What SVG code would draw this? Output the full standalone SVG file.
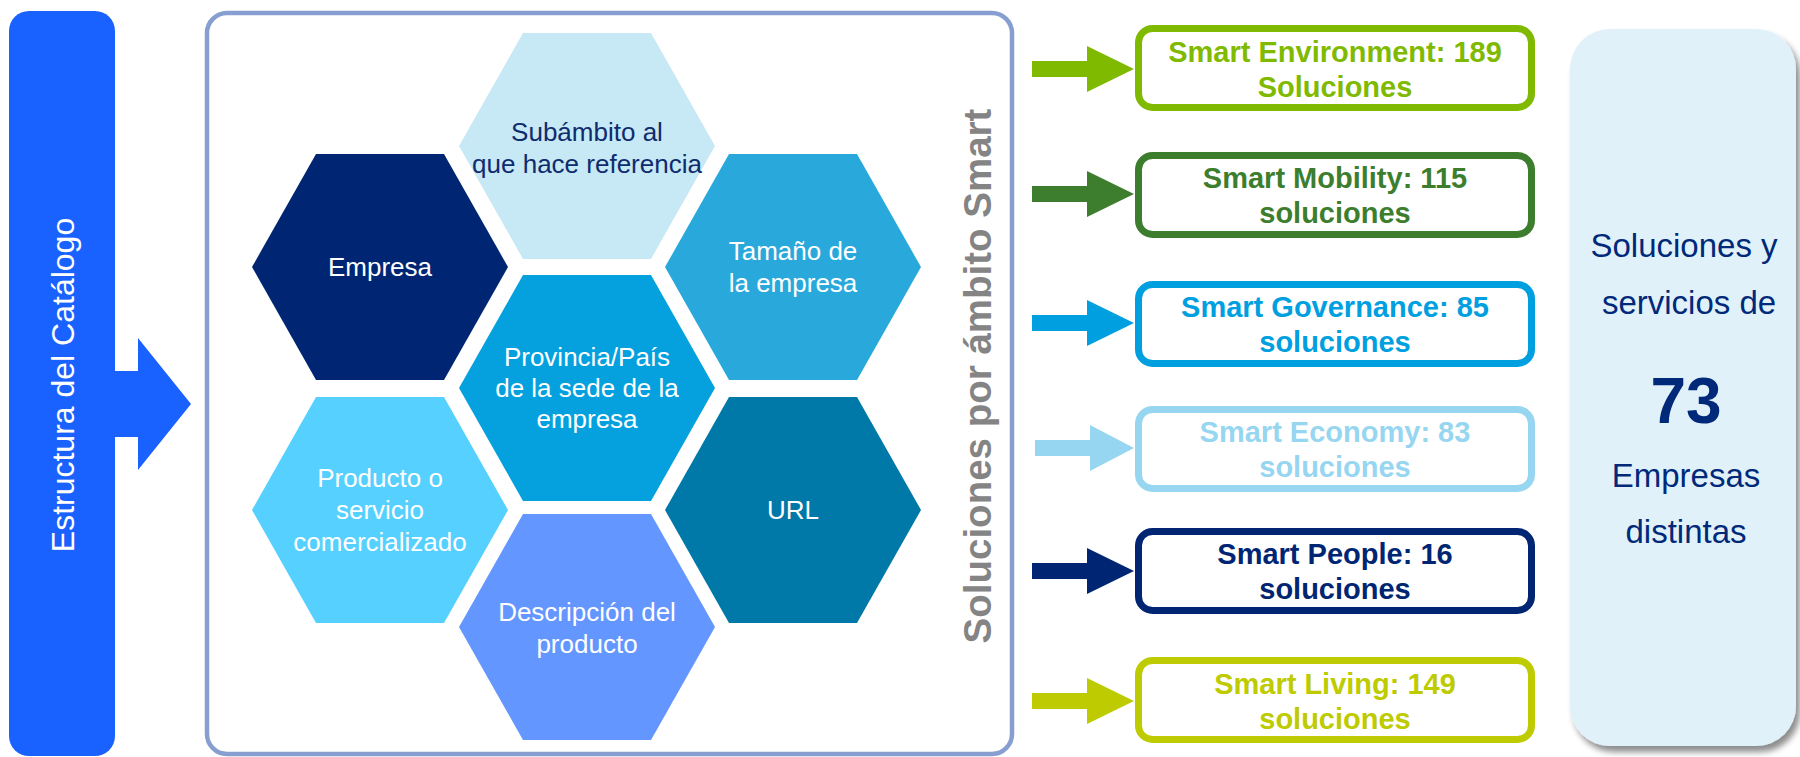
<svg xmlns="http://www.w3.org/2000/svg" width="1800" height="757" viewBox="0 0 1800 757">
<defs>
<style>
text{font-family:"Liberation Sans",Arial,sans-serif;text-anchor:middle}
.hx{font-size:26px;fill:#fff}
.hxd{font-size:26px;fill:#0E2C6E}
.bx{fill:#fff;stroke-width:7}
.bt{font-size:29px;font-weight:bold}
.pt{font-size:33px;fill:#00297A}
</style>
<polygon id="hex" points="-128,0 -64,-113 64,-113 128,0 64,113 -64,113"/>
<filter id="sh" x="-10%" y="-10%" width="130%" height="130%">
<feDropShadow dx="4" dy="6" stdDeviation="3" flood-color="#000" flood-opacity="0.45"/>
</filter>
</defs>
<rect width="1800" height="757" fill="#fff"/>

<g id="estructura">
<rect x="9" y="11" width="106" height="745" rx="20" fill="#1A62FF"/>
<polygon points="115,371 138,371 138,338 191,404 138,470 138,437 115,437" fill="#1A62FF"/>
<text transform="translate(74,385) rotate(-90)" style="font-size:32px;fill:#fff">Estructura del Catálogo</text>
</g>

<g id="catalogo-box">
<rect x="207" y="13" width="805" height="741" rx="20" fill="#fff" stroke="#879ED0" stroke-width="4.5"/>
<text transform="translate(991,376) rotate(-90)" style="font-size:38.5px;font-weight:bold;fill:#848484">Soluciones por ámbito Smart</text>
</g>

<g id="hex-subambito">
<use href="#hex" x="587" y="146" fill="#C7E8F5"/>
<text class="hxd" x="587" y="141">Subámbito al</text>
<text class="hxd" x="587" y="173">que hace referencia</text>
</g>
<g id="hex-empresa">
<use href="#hex" x="380" y="267" fill="#002673"/>
<text class="hx" x="380" y="276">Empresa</text>
</g>
<g id="hex-tamano">
<use href="#hex" x="793" y="267" fill="#29A9DB"/>
<text class="hx" x="793" y="260">Tamaño de</text>
<text class="hx" x="793" y="292">la empresa</text>
</g>
<g id="hex-provincia">
<use href="#hex" x="587" y="388" fill="#05A0DE"/>
<text class="hx" x="587" y="366">Provincia/País</text>
<text class="hx" x="587" y="397">de la sede de la</text>
<text class="hx" x="587" y="428">empresa</text>
</g>
<g id="hex-producto">
<use href="#hex" x="380" y="510" fill="#55D0FF"/>
<text class="hx" x="380" y="487">Producto o</text>
<text class="hx" x="380" y="519">servicio</text>
<text class="hx" x="380" y="551">comercializado</text>
</g>
<g id="hex-url">
<use href="#hex" x="793" y="510" fill="#0078A8"/>
<text class="hx" x="793" y="519">URL</text>
</g>
<g id="hex-descripcion">
<use href="#hex" x="587" y="627" fill="#6496FF"/>
<text class="hx" x="587" y="621">Descripción del</text>
<text class="hx" x="587" y="653">producto</text>
</g>

<g id="connectors">
<path d="M1032,61 H1087 V46 L1134,69 L1087,92 V77 H1032 Z" fill="#7FBA00"/>
<path d="M1032,186 H1087 V171 L1134,194 L1087,217 V202 H1032 Z" fill="#3D7E2E"/>
<path d="M1032,315 H1087 V300 L1134,323 L1087,346 V331 H1032 Z" fill="#00A0E0"/>
<path d="M1035,440 H1090 V425 L1134,448 L1090,471 V456 H1035 Z" fill="#97D6F0"/>
<path d="M1032,563 H1087 V548 L1134,571 L1087,594 V579 H1032 Z" fill="#002673"/>
<path d="M1032,693 H1087 V678 L1134,701 L1087,724 V709 H1032 Z" fill="#BDCB00"/>
</g>

<g id="smart-environment">
<rect class="bx" x="1138.5" y="28.5" width="393" height="79" rx="14" stroke="#7FBA00"/>
<text class="bt" x="1335" y="62" fill="#7FBA00">Smart Environment: 189</text>
<text class="bt" x="1335" y="97" fill="#7FBA00">Soluciones</text>
</g>
<g id="smart-mobility">
<rect class="bx" x="1138.5" y="155.5" width="393" height="79" rx="14" stroke="#3D7E2E"/>
<text class="bt" x="1335" y="188" fill="#3D7E2E">Smart Mobility: 115</text>
<text class="bt" x="1335" y="223" fill="#3D7E2E">soluciones</text>
</g>
<g id="smart-governance">
<rect class="bx" x="1138.5" y="284.5" width="393" height="79" rx="14" stroke="#00A0E0"/>
<text class="bt" x="1335" y="317" fill="#00A0E0">Smart Governance: 85</text>
<text class="bt" x="1335" y="352" fill="#00A0E0">soluciones</text>
</g>
<g id="smart-economy">
<rect class="bx" x="1138.5" y="409.5" width="393" height="79" rx="14" stroke="#97D6F0"/>
<text class="bt" x="1335" y="442" fill="#97D6F0">Smart Economy: 83</text>
<text class="bt" x="1335" y="477" fill="#97D6F0">soluciones</text>
</g>
<g id="smart-people">
<rect class="bx" x="1138.5" y="531.5" width="393" height="79" rx="14" stroke="#002673"/>
<text class="bt" x="1335" y="564" fill="#002673">Smart People: 16</text>
<text class="bt" x="1335" y="599" fill="#002673">soluciones</text>
</g>
<g id="smart-living">
<rect class="bx" x="1138.5" y="660.5" width="393" height="79" rx="14" stroke="#BDCB00"/>
<text class="bt" x="1335" y="694" fill="#BDCB00">Smart Living: 149</text>
<text class="bt" x="1335" y="729" fill="#BDCB00">soluciones</text>
</g>

<g id="resumen">
<rect x="1570" y="29" width="226" height="717" rx="40" fill="#E1F1F9" filter="url(#sh)"/>
<text class="pt" x="1684" y="257">Soluciones y</text>
<text class="pt" x="1689" y="314">servicios de</text>
<text x="1686" y="423" style="font-size:64px;font-weight:bold;fill:#00297A">73</text>
<text class="pt" x="1686" y="487">Empresas</text>
<text class="pt" x="1686" y="543">distintas</text>
</g>
</svg>
